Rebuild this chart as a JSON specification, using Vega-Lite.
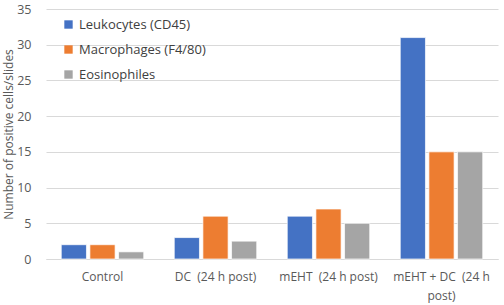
{
  "$schema": "https://vega.github.io/schema/vega-lite/v6.json",
  "width": 504,
  "height": 305,
  "autosize": {"type": "fit", "contains": "padding"},
  "padding": {"left": 2, "top": 3, "right": 6, "bottom": 4},
  "background": "white",
  "config": {
    "font": "Open Sans",
    "view": {"stroke": null},
    "axis": {"labelColor": "#595959", "titleColor": "#595959", "labelFont": "Open Sans", "titleFont": "Open Sans"}
  },
  "data": {
    "values": [
      {"group": "Control", "series": "Leukocytes (CD45)", "value": 2},
      {"group": "Control", "series": "Macrophages (F4/80)", "value": 2},
      {"group": "Control", "series": "Eosinophiles", "value": 1},
      {"group": "DC  (24 h post)", "series": "Leukocytes (CD45)", "value": 3},
      {"group": "DC  (24 h post)", "series": "Macrophages (F4/80)", "value": 6},
      {"group": "DC  (24 h post)", "series": "Eosinophiles", "value": 2.5},
      {"group": "mEHT  (24 h post)", "series": "Leukocytes (CD45)", "value": 6},
      {"group": "mEHT  (24 h post)", "series": "Macrophages (F4/80)", "value": 7},
      {"group": "mEHT  (24 h post)", "series": "Eosinophiles", "value": 5},
      {"group": "mEHT + DC  (24 h post)", "series": "Leukocytes (CD45)", "value": 31},
      {"group": "mEHT + DC  (24 h post)", "series": "Macrophages (F4/80)", "value": 15},
      {"group": "mEHT + DC  (24 h post)", "series": "Eosinophiles", "value": 15}
    ]
  },
  "mark": {"type": "bar", "stroke": "white", "strokeWidth": 0.7},
  "encoding": {
    "x": {
      "field": "group",
      "type": "nominal",
      "sort": null,
      "title": null,
      "scale": {"paddingInner": 0.27, "paddingOuter": 0.135},
      "axis": {
        "labelAngle": 0,
        "ticks": false,
        "domainColor": "#d9d9d9",
        "labelFontSize": 12,
        "labelPadding": 12,
        "labelLineHeight": 19,
        "labelLimit": 200,
        "labelExpr": "datum.label == 'mEHT + DC  (24 h post)' ? ['mEHT + DC\u00a0\u00a0(24 h', 'post)'] : replace(datum.label, '  ', '\u00a0\u00a0')"
      }
    },
    "xOffset": {
      "field": "series",
      "type": "nominal",
      "sort": ["Leukocytes (CD45)", "Macrophages (F4/80)", "Eosinophiles"],
      "scale": {"paddingInner": 0.12}
    },
    "y": {
      "field": "value",
      "type": "quantitative",
      "title": "Number of positive cells/slides",
      "scale": {"domain": [0, 35]},
      "axis": {
        "values": [0, 5, 10, 15, 20, 25, 30, 35],
        "domain": false,
        "ticks": false,
        "gridColor": "#d9d9d9",
        "labelFontSize": 12.5,
        "labelPadding": 15,
        "titleFontSize": 12,
        "titleFontWeight": "normal",
        "titlePadding": 1
      }
    },
    "color": {
      "field": "series",
      "type": "nominal",
      "sort": ["Leukocytes (CD45)", "Macrophages (F4/80)", "Eosinophiles"],
      "scale": {"range": ["#4472C4", "#ED7D31", "#A5A5A5"]},
      "legend": {
        "title": null,
        "orient": "none",
        "legendX": 16,
        "legendY": 9,
        "symbolType": "square",
        "symbolSize": 70,
        "symbolStrokeWidth": 0,
        "labelFontSize": 13,
        "labelColor": "#404040",
        "labelOffset": 4,
        "rowPadding": 11
      }
    }
  }
}
